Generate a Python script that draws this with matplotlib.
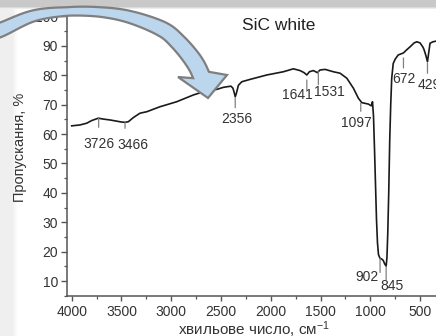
import numpy as np
import matplotlib
matplotlib.use("Agg")
import matplotlib.pyplot as plt
from matplotlib.patches import Polygon
from matplotlib.ticker import MultipleLocator

plt.rcParams['font.family'] = ['Liberation Sans', 'DejaVu Sans']
plt.rcParams['mathtext.fontset'] = 'custom'
plt.rcParams['mathtext.rm'] = 'Liberation Sans'
plt.rcParams['mathtext.it'] = 'Liberation Sans'

# ---------------- data ----------------
wavenumber = [4000, 3917, 3849, 3799, 3766, 3733, 3682, 3615, 3548, 3500, 3464, 3431,
              3381, 3314, 3246, 3113, 2945, 2778, 2677, 2600, 2543, 2476, 2400, 2380,
              2368, 2357, 2346, 2325, 2291, 2208, 2040, 1873, 1773, 1706, 1666, 1638, 1612,
              1572, 1532, 1505, 1454, 1371, 1304, 1236, 1170, 1120, 1086, 1019, 990,
              978, 968, 958, 948, 938, 928, 918, 902, 885, 870, 855, 841, 833, 825,
              815, 805, 795, 785, 770, 750, 720, 690, 667, 640, 600, 560, 533, 500,
              470, 459, 440, 426, 412, 400, 370, 340, 300]
transmittance = [62.8, 63.1, 63.7, 64.6, 65.0, 65.4, 65.1, 64.8, 64.4, 64.1, 64.0, 64.2,
                 65.6, 67.1, 67.6, 69.3, 71.0, 73.3, 74.4, 74.9, 75.2, 75.9, 76.3, 75.6,
                 74.2, 72.7, 73.8, 76.6, 77.8, 78.6, 80.1, 81.2, 82.2, 81.6, 80.9, 80.1, 81.2,
                 81.6, 80.9, 81.8, 82.0, 81.2, 80.7, 79.0, 75.6, 72.2, 70.7, 70.2, 69.6,
                 71.0, 66.0, 55.0, 43.0, 31.0, 23.0, 19.0, 17.7, 17.5, 17.0, 15.8, 15.1,
                 18.0, 26.0, 40.0, 58.0, 70.0, 79.0, 84.0, 85.5, 86.9, 87.3, 87.6, 88.5,
                 89.7, 91.0, 91.4, 91.0, 89.5, 88.6, 86.5, 84.6, 88.0, 90.9, 91.4, 91.6, 91.8]

peak_labels = ['3726', '3466', '2356', '1641', '1531', '1097', '902', '845', '672', '429']
peak_wn = [3729, 3464, 2357, 1638, 1522, 1096, 902, 841, 667, 426]

x_ticks = [4000, 3500, 3000, 2500, 2000, 1500, 1000, 500]
y_ticks = [10, 20, 30, 40, 50, 60, 70, 80, 90, 100]

title = 'SiC white'
ylabel = 'Пропускання, %'
xlabel = 'хвильове число, см$^{-1}$'

# ---------------- layout (pixels) ----------------
W, H = 436, 336
PT = 0.72  # px -> pt at dpi 100
# per peak: gap from curve, tick length, label dx, label dy (px)
peak_layout = [(0, 9, 0, 17), (0, 6, 8, 16.7), (1, 10, 2, 11.6), (5, 10, -9, 5),
               (0, 13, 11, 7), (2, 8, -4, 12), (0, 14, -13, 4.7), (0.5, 13, 6, 6.7),
               (5, 10, 0, 11), (1.5, 10, 2, 12)]

fig = plt.figure(figsize=(W / 100, H / 100), dpi=100)
fig.patch.set_facecolor('white')

# slide background
bg = fig.add_axes([0, 0, 1, 1], zorder=-10)
bg.axis('off')
img = np.ones((H, W, 3))
rows = np.arange(H)[:, None]
cols = np.arange(W)[None, :]
left = np.clip((cols - 12) / 5.0, 0, 1) * 0.06 + 0.94
top = np.where(rows < 7, 0.79, np.clip(0.79 + (rows - 6) * 0.07, 0, 1))
shade = np.minimum(left * np.ones((H, 1)), top * np.ones((1, W)))
shade = np.where(rows < 7, top * np.ones((1, W)), shade)
img *= shade[:, :, None]
bg.imshow(img, extent=(0, W, H, 0), aspect='auto', interpolation='bilinear')
bg.set_xlim(0, W)
bg.set_ylim(H, 0)

# main axes
x_left_px, x_right_px = 66.7, 440.0
y_top_px, y_bot_px = 15.0, 295.8
ax = fig.add_axes([x_left_px / W, 1 - y_bot_px / H,
                   (x_right_px - x_left_px) / W, (y_bot_px - y_top_px) / H])
ax.patch.set_alpha(0)
ax.set_xlim(4050, 300)
ax.set_ylim(5, 100.5)
for s in ['top', 'right']:
    ax.spines[s].set_visible(False)
for s in ['left', 'bottom']:
    ax.spines[s].set_color('#555555')
    ax.spines[s].set_linewidth(1.1)
ax.set_xticks(x_ticks)
ax.set_yticks(y_ticks)
ax.xaxis.set_minor_locator(MultipleLocator(250))
ax.yaxis.set_minor_locator(MultipleLocator(5))
ax.tick_params(axis='x', which='major', direction='out', length=3.6, width=1.0,
               color='#555555', labelsize=10, labelcolor='#333333', pad=3)
ax.tick_params(axis='y', which='major', direction='out', length=4.3, width=1.0,
               color='#555555', labelsize=10, labelcolor='#333333', pad=2)
ax.tick_params(which='minor', direction='out', length=2.2, width=0.9, color='#555555')

ax.plot(wavenumber, transmittance, color='#1a1a1a', lw=1.2, zorder=3)

wn_arr = np.array(wavenumber[::-1], float)
tr_arr = np.array(transmittance[::-1], float)
for lab, w, (g, L, dx, dy) in zip(peak_labels, peak_wn, peak_layout):
    v = float(np.interp(w, wn_arr, tr_arr))
    ax.annotate('', xy=(w, v), xytext=(0, -(g + L) * PT), textcoords='offset points',
                arrowprops=dict(arrowstyle='-', color='#808080', lw=0.9,
                                shrinkA=0, shrinkB=g * PT), annotation_clip=False)
    ax.annotate(lab, xy=(w, v), xytext=(dx * PT, -(g + L + dy) * PT),
                textcoords='offset points', ha='center', va='center',
                fontsize=10, color='#333333', annotation_clip=False)

fig.text(279 / W, 1 - 25 / H, title, ha='center', va='center', fontsize=12.5, color='#222222')
fig.text(20 / W, 1 - 147 / H, ylabel, rotation=90, ha='center', va='center',
         fontsize=10.5, color='#333333')
fig.text(254 / W, 1 - 335 / H, xlabel, ha='center', va='baseline',
         fontsize=11, color='#333333')

# decorative curved arrow (slide graphic)
ctrl = np.array([(-40, 45), (-20, 36), (0, 30), (33, 16), (67, 11.5), (100, 12),
                 (130, 17), (162, 29), (178, 42), (193, 60), (201, 75), (205, 90)], float)


def catmull(pts, n=24):
    out = []
    for i in range(1, len(pts) - 2):
        p0, p1, p2, p3 = pts[i - 1:i + 3]
        t = np.linspace(0, 1, n, endpoint=False)[:, None]
        out.append(0.5 * ((2 * p1) + (-p0 + p2) * t + (2 * p0 - 5 * p1 + 4 * p2 - p3) * t ** 2
                          + (-p0 + 3 * p1 - 3 * p2 + p3) * t ** 3))
    out.append(pts[-2][None, :])
    return np.vstack(out)


c = catmull(ctrl)
tx = np.gradient(c[:, 0])
ty = np.gradient(c[:, 1])
nrm = np.hypot(tx, ty)
nx, ny = ty / nrm, -tx / nrm
thick = np.interp(c[:, 0], [-20, 0, 33, 67, 100, 130, 162, 178, 193, 201],
                  [15, 14, 11, 8.5, 9.5, 12, 15, 16, 17, 17])
outer = np.column_stack([c[:, 0] + nx * thick / 2, c[:, 1] + ny * thick / 2])
inner = np.column_stack([c[:, 0] - nx * thick / 2, c[:, 1] - ny * thick / 2])
head = np.array([(227, 75), (208, 98), (178, 77)], float)
poly = np.vstack([outer, head, inner[::-1]])
poly_fig = np.column_stack([poly[:, 0] / W, 1 - poly[:, 1] / H])
arrow = Polygon(poly_fig, closed=True, transform=fig.transFigure, facecolor='#bcd6ee',
                edgecolor='#7f7f7f', lw=1.6, zorder=20, joinstyle='miter')
fig.add_artist(arrow)

fig.savefig('out.png', dpi=100)
